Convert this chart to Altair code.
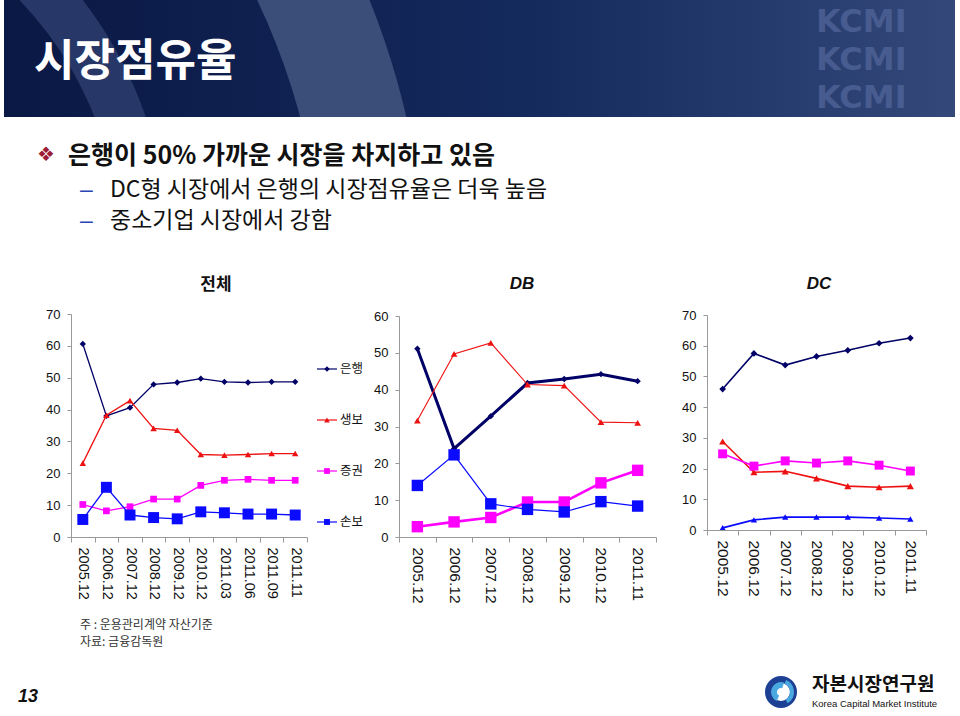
import altair as alt
import pandas as pd

W, H = 960, 716

# ---------------- data ----------------
series = ["은행", "생보", "증권", "손보"]

cats_all = ["2005.12", "2006.12", "2007.12", "2008.12", "2009.12",
            "2010.12", "2011.03", "2011.06", "2011.09", "2011.11"]
all_bank = [60.6, 38.0, 40.6, 47.9, 48.5, 49.7, 48.7, 48.5, 48.7, 48.7]
all_life = [23.2, 38.2, 42.8, 34.1, 33.5, 25.9, 25.7, 25.9, 26.2, 26.2]
all_sec = [10.2, 8.2, 9.5, 11.9, 11.9, 16.2, 17.8, 18.1, 17.8, 17.8]
all_nonlife = [5.5, 15.6, 6.9, 6.1, 5.7, 7.9, 7.6, 7.2, 7.2, 6.9]

cats_db = ["2005.12", "2006.12", "2007.12", "2008.12", "2009.12", "2010.12", "2011.11"]
db_bank = [51.1, 24.0, 32.8, 41.8, 42.9, 44.2, 42.3]
db_life = [31.6, 49.7, 52.7, 41.4, 41.1, 31.2, 31.0]
db_sec = [2.8, 4.1, 5.3, 9.5, 9.5, 14.7, 18.1]
db_nonlife = [14.0, 22.3, 9.0, 7.5, 6.8, 9.6, 8.4]

cats_dc = ["2005.12", "2006.12", "2007.12", "2008.12", "2009.12", "2010.12", "2011.11"]
dc_bank = [45.9, 57.5, 53.7, 56.5, 58.5, 60.8, 62.5]
dc_life = [28.8, 18.8, 19.1, 16.8, 14.3, 13.9, 14.3]
dc_sec = [24.8, 20.8, 22.5, 21.8, 22.5, 21.1, 19.2]
dc_nonlife = [0.7, 3.3, 4.2, 4.2, 4.2, 3.9, 3.6]

ticks_all = [0, 10, 20, 30, 40, 50, 60, 70]
ticks_db = [0, 10, 20, 30, 40, 50, 60]
ticks_dc = [0, 10, 20, 30, 40, 50, 60, 70]

slide_title = "시장점유율"
bullet_main = "은행이 50% 가까운 시장을 차지하고 있음"
bullet_sub1 = "DC형 시장에서 은행의 시장점유율은 더욱 높음"
bullet_sub2 = "중소기업 시장에서 강함"
panel_titles = ["전체", "DB", "DC"]
notes = ["주 : 운용관리계약 자산기준", "자료: 금융감독원"]
page_no = "13"
org_ko = "자본시장연구원"
org_en = "Korea Capital Market Institute"
watermark = ["KCMI", "KCMI", "KCMI"]

# ---------------- styles ----------------
NAVY, RED, MAG, BLUE = "#000066", "#ee1111", "#ff00ff", "#0a0aff"
KFONT = "Noto Sans CJK KR"
NFONT = "Liberation Sans"

dummy = pd.DataFrame({"k": [0]})


def txt(text, x, y, size, color="#111111", font=KFONT, weight="normal",
        style="normal", align="left", baseline="middle", opacity=1.0, line_height=None):
    kw = {}
    if line_height is not None:
        kw["lineHeight"] = line_height
    return alt.Chart(dummy).mark_text(
        text=text, font=font, fontSize=size, fontWeight=weight, fontStyle=style,
        color=color, align=align, baseline=baseline, opacity=opacity, **kw
    ).encode(x=alt.value(x), y=alt.value(y))


def rect(x, x2, y, y2, color):
    return alt.Chart(dummy).mark_rect(color=color).encode(
        x=alt.value(x), x2=alt.value(x2), y=alt.value(y), y2=alt.value(y2))


def arc(cx, cy, r1, r2, t1, t2, color, opacity=1.0):
    return alt.Chart(dummy).mark_arc(
        radius=r2, radius2=r1, theta=t1, theta2=t2, color=color, opacity=opacity
    ).encode(x=alt.value(cx), y=alt.value(cy))


def panel(cats, vals, ydom, yticks, xr, yr, xlab_size, styles):
    rows = []
    for s, arr in zip(series, vals):
        for c, v in zip(cats, arr):
            rows.append({"기간": c, "계열": s, "점유율": v})
    df = pd.DataFrame(rows)
    x = alt.X(
        "기간:N", sort=cats, bandPosition=0.5, title=None,
        scale=alt.Scale(type="band", domain=cats, range=list(xr),
                        paddingInner=0, paddingOuter=0),
        axis=alt.Axis(orient="bottom", offset=-(H - yr[0]), labelAngle=90,
                      labelAlign="left", labelBaseline="middle",
                      tickBand="extent", tickSize=5, labelPadding=5,
                      labelFontSize=xlab_size, labelFont=NFONT,
                      labelColor="#111111", domainColor="#999999",
                      tickColor="#999999", grid=False, labelOverlap=False,
                      zindex=1),
    )
    y = alt.Y(
        "점유율:Q", title=None,
        scale=alt.Scale(domain=ydom, range=list(yr), nice=False, zero=False),
        axis=alt.Axis(orient="left", offset=-xr[0], values=yticks,
                      tickSize=4, labelPadding=7, labelFontSize=13,
                      labelFont=NFONT, labelColor="#111111",
                      domainColor="#999999", tickColor="#999999", grid=False,
                      zindex=1),
    )
    base = alt.Chart(df).encode(x=x, y=y)
    layers = []
    for s, st in zip(series, styles):
        f = base.transform_filter(alt.datum["계열"] == s)
        layers.append(f.mark_line(color=st[0], strokeWidth=st[1]))
        layers.append(f.mark_point(shape=st[2], size=st[3], filled=True,
                                   opacity=1, color=st[0], strokeWidth=0))
    return alt.layer(*layers)


p_all = panel(cats_all, [all_bank, all_life, all_sec, all_nonlife], [0, 70],
              ticks_all, (71, 307), (537, 314), 14.5,
              [(NAVY, 1.3, "diamond", 40), (RED, 1.3, "triangle-up", 42),
               (MAG, 1.3, "square", 45), (BLUE, 1.3, "square", 120)])
p_db = panel(cats_db, [db_bank, db_life, db_sec, db_nonlife], [0, 60],
             ticks_db, (399, 656), (537, 316), 15.5,
             [(NAVY, 3.0, "diamond", 40), (RED, 1.1, "triangle-up", 45),
              (MAG, 2.6, "square", 130), (BLUE, 1.2, "square", 130)])
p_dc = panel(cats_dc, [dc_bank, dc_life, dc_sec, dc_nonlife], [0, 70],
             ticks_dc, (707, 926), (530, 315), 15.5,
             [(NAVY, 1.6, "diamond", 45), (RED, 1.6, "triangle-up", 50),
              (MAG, 1.6, "square", 80), (BLUE, 1.6, "triangle-up", 40)])

# ---------------- legend ----------------
leg_df = pd.DataFrame({"계열": series})
leg_y = alt.Y("계열:N", axis=None, title=None,
              scale=alt.Scale(type="point", domain=series, range=[369, 522], padding=0))
leg_color = alt.Color("계열:N", legend=None,
                      scale=alt.Scale(domain=series, range=[NAVY, RED, MAG, BLUE]))
leg_base = alt.Chart(leg_df).encode(y=leg_y, color=leg_color)
legend = alt.layer(
    leg_base.mark_rule(strokeWidth=1.2).encode(x=alt.value(317), x2=alt.value(337)),
    leg_base.mark_point(filled=True, opacity=1, strokeWidth=0).encode(
        x=alt.value(327),
        shape=alt.Shape("계열:N", legend=None,
                        scale=alt.Scale(domain=series,
                                        range=["diamond", "triangle-up", "square", "square"])),
        size=alt.Size("계열:N", legend=None,
                      scale=alt.Scale(domain=series, range=[30, 35, 35, 70])),
    ),
    leg_base.mark_text(align="left", baseline="middle", font=KFONT, fontSize=12.5,
                       color="#111111").encode(x=alt.value(340), text="계열:N",
                                               color=alt.value("#111111")),
)

# ---------------- header decoration ----------------
header_grad = alt.LinearGradient(
    gradient="linear", x1=0, x2=1, y1=0, y2=0,
    stops=[alt.GradientStop(offset=0, color="#0a1844"),
           alt.GradientStop(offset=0.55, color="#14295c"),
           alt.GradientStop(offset=1, color="#34497a")])

layers = [
    rect(4, 955, 0, 117, header_grad),
    arc(-241, 250, 361, 409, 0.75, 1.35, "#2a3c6b", 0.9),
    arc(-378.6, 300, 703, 806, 1.10, 1.40, "#3b4e79", 1.0),
    txt(watermark, 816, 22, 32, color="#51659a", font="DejaVu Sans", weight="bold",
        opacity=0.75, line_height=38),
    rect(0, W, 117, H, "#ffffff"),
    rect(0, 4, 0, 117, "#ffffff"),
    rect(955, W, 0, 117, "#ffffff"),
    txt(slide_title, 34, 63, 44, color="#ffffff", weight="bold"),
    # bullets
    txt("❖", 46, 155, 20, color="#9c1c35", font="DejaVu Sans", align="center"),
    txt(bullet_main, 68, 156, 25, color="#111111", weight="bold"),
    txt("–", 80, 190, 23, color="#2b45b5", font=NFONT),
    txt(bullet_sub1, 110, 190, 23, color="#111111"),
    txt("–", 80, 221, 23, color="#2b45b5", font=NFONT),
    txt(bullet_sub2, 110, 221, 23, color="#111111"),
    # panel titles
    txt(panel_titles[0], 216, 285, 17, weight="bold", align="center"),
    txt(panel_titles[1], 522, 284, 17, font=NFONT, weight="bold", style="italic", align="center"),
    txt(panel_titles[2], 819, 284, 17, font=NFONT, weight="bold", style="italic", align="center"),
    # charts
    p_all, p_db, p_dc, legend,
    # footer
    txt(notes, 80, 625, 12, color="#333333", line_height=17),
    txt(page_no, 18, 697, 18, font=NFONT, weight="bold", style="italic", color="#111111"),
    arc(781, 692, 9, 16, 0, 6.2832, "#1d3f94"),
    arc(781, 692, 4, 10, 3.6, 6.6, "#4aa8e0"),
    arc(781, 692, 9, 13, 0.4, 2.6, "#4aa8e0"),
    txt(org_ko, 812, 685, 19, color="#111111", weight="bold"),
    txt(org_en, 812, 704, 9.5, color="#111111", font=NFONT),
]

chart = alt.layer(*layers).resolve_scale(
    x="independent", y="independent"
).properties(
    width=W, height=H, padding=0,
    autosize=alt.AutoSizeParams(type="none"),
    background="#ffffff",
).configure_view(stroke=None)

chart.save("out.html", embed_options={"renderer": "svg", "actions": False})
